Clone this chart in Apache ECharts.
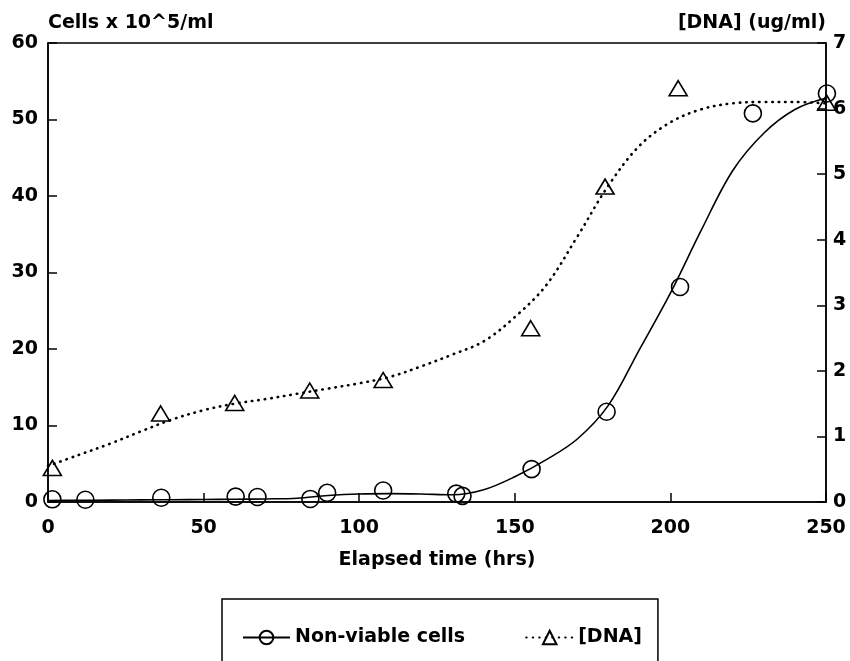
<!DOCTYPE html>
<html>
<head>
<meta charset="utf-8">
<script src="https://cdn.jsdelivr.net/npm/echarts@6/dist/echarts.min.js"></script>
<style>
html,body{margin:0;padding:0;background:#fff;}
#c{width:850px;height:661px;}
</style>
</head>
<body>
<div id="c"></div>
<script>
// Measured data points
const cellHours = [1.4, 12, 36.4, 60.3, 67.3, 84.3, 89.7, 107.7, 131.2, 133.2, 155.4, 179.5, 203.1, 226.5, 250.3];
const cellValues = [0.35, 0.3, 0.55, 0.7, 0.65, 0.4, 1.2, 1.5, 1.1, 0.8, 4.3, 11.8, 28.1, 50.8, 53.4];
const dnaHours = [1.4, 36.2, 60, 84.1, 107.7, 155.1, 179, 202.5, 250.2];
const dnaValues = [0.52, 1.35, 1.51, 1.70, 1.86, 2.65, 4.81, 6.31, 6.09];

// Fitted curves (every 10 h)
const fitHours = [0, 10, 20, 30, 40, 50, 60, 70, 80, 90, 100, 110, 120, 130, 140, 150, 160, 170, 180, 190, 200, 210, 220, 230, 240, 250];
const cellFitValues = [0.2, 0.22, 0.25, 0.28, 0.3, 0.33, 0.35, 0.4, 0.5, 0.85, 1.05, 1.1, 1.05, 0.95, 1.6, 3.3, 5.5, 8.2, 12.6, 19.9, 27.3, 35.6, 43.3, 48.2, 51.3, 52.8];
const dnaFitValues = [0.55, 0.72, 0.89, 1.08, 1.26, 1.40, 1.50, 1.57, 1.65, 1.73, 1.81, 1.91, 2.07, 2.25, 2.45, 2.82, 3.30, 4.04, 4.82, 5.43, 5.79, 5.99, 6.08, 6.10, 6.10, 6.08];

// Axis ticks
const xTicks = {min: 0, max: 250, interval: 50};
const yLeftTicks = {min: 0, max: 60, interval: 10};
const yRightTicks = {min: 0, max: 7, interval: 1};

const seriesNames = ['Non-viable cells', '[DNA]'];
const axisTitles = {x: 'Elapsed time (hrs)', yLeft: 'Cells x 10^5/ml', yRight: '[DNA] (ug/ml)'};

const pair = (xs, ys) => xs.map((x, i) => [x, ys[i]]);
const FONT = 'DejaVu Sans';
const txt = {fontFamily: FONT, fontWeight: 'bold', fontSize: 19, color: '#000'};
const markStyle = {color: 'rgba(0,0,0,0)', borderColor: '#000', borderWidth: 1.6, opacity: 1};

const chart = echarts.init(document.getElementById('c'), null, {renderer: 'canvas'});
chart.setOption({
  backgroundColor: '#fff',
  animation: false,
  grid: {left: 48, top: 43, width: 778, height: 459, show: true, borderColor: '#000', borderWidth: 1.5, backgroundColor: 'transparent'},
  xAxis: {
    type: 'value', min: xTicks.min, max: xTicks.max, interval: xTicks.interval,
    name: axisTitles.x, nameLocation: 'middle', nameGap: 58,
    nameTextStyle: Object.assign({}, txt, {verticalAlign: 'middle'}),
    axisLine: {show: true, lineStyle: {color: '#000', width: 1.5}},
    axisTick: {show: true, inside: true, length: 9, lineStyle: {color: '#000', width: 1.5}},
    axisLabel: Object.assign({}, txt, {margin: 17}),
    splitLine: {show: false}
  },
  yAxis: [{
    type: 'value', position: 'left', min: yLeftTicks.min, max: yLeftTicks.max, interval: yLeftTicks.interval,
    name: axisTitles.yLeft, nameLocation: 'end', nameGap: 20,
    nameTextStyle: Object.assign({}, txt, {align: 'left', verticalAlign: 'middle'}),
    axisLine: {show: true, lineStyle: {color: '#000', width: 1.5}},
    axisTick: {show: true, inside: true, length: 9, lineStyle: {color: '#000', width: 1.5}},
    axisLabel: Object.assign({}, txt, {margin: 10}),
    splitLine: {show: false}
  }, {
    type: 'value', position: 'right', min: yRightTicks.min, max: yRightTicks.max, interval: yRightTicks.interval,
    name: axisTitles.yRight, nameLocation: 'end', nameGap: 20,
    nameTextStyle: Object.assign({}, txt, {align: 'right', verticalAlign: 'middle'}),
    axisLine: {show: true, lineStyle: {color: '#000', width: 1.5}},
    axisTick: {show: true, inside: true, length: 9, lineStyle: {color: '#000', width: 1.5}},
    axisLabel: Object.assign({}, txt, {margin: 7}),
    splitLine: {show: false}
  }],
  legend: {
    data: seriesNames,
    left: 222, top: 599,
    orient: 'horizontal',
    padding: [29, 16, 40, 20],
    itemGap: 60, itemWidth: 47, itemHeight: 17,
    borderColor: '#000', borderWidth: 1.5,
    textStyle: txt,
    selectedMode: false
  },
  series: [{
    name: seriesNames[0], type: 'line', xAxisIndex: 0, yAxisIndex: 0,
    data: pair(fitHours, cellFitValues),
    smooth: 0.35, symbol: 'circle', showSymbol: false, symbolSize: 16,
    lineStyle: {color: '#000', width: 1.6, type: 'solid'},
    itemStyle: markStyle,
    z: 2
  }, {
    name: seriesNames[1], type: 'line', xAxisIndex: 0, yAxisIndex: 1,
    data: pair(fitHours, dnaFitValues),
    smooth: 0.35, symbol: 'triangle', showSymbol: false, symbolSize: 16,
    lineStyle: {color: '#000', width: 2.6, type: [0.5, 6], cap: 'round'},
    itemStyle: markStyle,
    z: 2
  }, {
    name: 'cells points', type: 'scatter', xAxisIndex: 0, yAxisIndex: 0,
    data: pair(cellHours, cellValues), clip: false,
    symbol: 'circle', symbolSize: 17,
    itemStyle: markStyle,
    z: 3
  }, {
    name: 'dna points', type: 'scatter', xAxisIndex: 0, yAxisIndex: 1,
    data: pair(dnaHours, dnaValues), clip: false,
    symbol: 'triangle', symbolSize: [18, 15],
    itemStyle: markStyle,
    z: 3
  }]
});
</script>
</body>
</html>
